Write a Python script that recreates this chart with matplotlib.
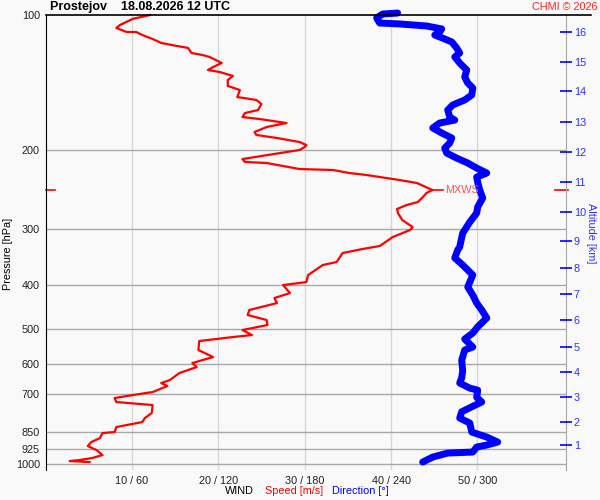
import matplotlib.pyplot as plt
import matplotlib.transforms as mtransforms
from matplotlib.ticker import NullLocator

plt.rcParams['font.family'] = ['Liberation Sans', 'DejaVu Sans']

# wind speed profile [m/s] vs pressure [hPa]
speed_p = [100, 102, 105.3, 106.9, 109.1, 109.1, 110.8, 113.1, 115.4, 117.2, 118.4, 121.5,
           122.8, 124.0, 127.9, 130.6, 132.6, 134.0, 136.7, 139.6, 143.9, 146.9, 152.3,
           154.6, 157.8, 162.8, 165.3, 168.7, 170.5, 174.0, 177.6, 182.2, 185.0, 187.9,
           191.8, 194.8, 196.8, 199.8, 209.3, 212.5, 213.6, 220.3, 221.4, 224.9, 227.2,
           233.1, 236.7, 245.3, 249.1, 254.3, 260.9, 265.0, 270.4, 276.1, 286.1, 296.6,
           301.2, 312.2, 326.9, 332.0, 338.9, 354.9, 360.4, 379.4, 393.2, 395.2, 399.3,
           416.1, 426.9, 438.0, 453.9, 465.7, 477.8, 490.2, 503.0, 516.0, 521.4, 532.2,
           557.3, 577.7, 595.8, 608.1, 627.1, 650.0, 660.1, 670.4, 691.3, 702.0, 712.9,
           727.6, 738.9, 769.8, 789.9, 806.3, 827.2, 848.7, 853.1, 875.2, 893.3, 911.9,
           930.8, 954.9, 969.7, 979.7, 984.8, 989.9]
speed = [12.1, 10.1, 8.6, 8.2, 9.4, 10.5, 11.2, 12.4, 13.4, 15.2, 16.5, 16.9,
         18.2, 19.0, 20.4, 19.4, 18.8, 20.2, 21.7, 21.1, 21.1, 22.5, 22.2,
         24.4, 25.0, 24.6, 23.1, 22.8, 24.8, 27.9, 25.6, 24.2, 24.4, 26.8,
         29.4, 30.2, 30.0, 29.4, 22.8, 23.1, 25.6, 29.4, 33.3, 35.2, 37.2,
         41.0, 43.0, 44.8, 44.1, 43.7, 43.1, 41.8, 40.7, 40.8, 41.3, 42.5,
         42.2, 40.2, 38.7, 36.7, 34.4, 33.7, 32.1, 30.4, 30.2, 29.4, 27.5,
         28.3, 26.5, 26.8, 23.6, 23.4, 25.6, 25.7, 22.8, 23.9, 21.7, 17.8,
         17.7, 19.4, 17.0, 17.5, 15.5, 14.4, 13.4, 14.1, 12.4, 10.1, 8.0,
         8.2, 12.4, 12.3, 11.5, 11.2, 8.2, 8.0, 6.6, 6.3, 5.3, 4.9,
         5.9, 6.6, 5.4, 3.9, 2.8, 5.1]

# wind direction profile [deg] vs pressure [hPa]
dir_p = [99.0, 99.5, 101.5, 104.2, 104.7, 105.8, 107.4, 109.1, 110.8, 111.9, 114.8, 118.4,
         121.5, 124.0, 127.9, 132.6, 137.4, 141.7, 145.4, 150.7, 154.6, 158.6, 162.8,
         168.7, 171.4, 174.0, 178.5, 183.1, 187.9, 192.8, 197.9, 203.0, 208.3, 213.6,
         219.2, 224.9, 229.6, 235.5, 245.3, 255.6, 267.7, 276.1, 289.2, 306.0, 328.6,
         333.7, 347.6, 360.4, 379.4, 403.4, 420.5, 438.0, 453.9, 472.9, 494.9, 510.7,
         526.9, 548.8, 557.3, 587.5, 619.3, 642.8, 660.1, 677.5, 684.6, 710.4, 727.6,
         745.6, 764.9, 789.9, 810.4, 849.0, 870.8, 893.3, 907.2, 916.6, 940.4, 945.2,
         964.8, 989.9]
direction = [244.6, 234.2, 230.0, 232.1, 246.0, 264.8, 275.2, 273.8, 270.4, 273.8, 282.2, 285.6,
             287.7, 284.3, 287.7, 292.6, 291.2, 293.3, 296.8, 296.1, 291.2, 282.9, 279.4,
             280.8, 284.3, 273.8, 269.0, 275.2, 282.2, 280.8, 277.3, 278.7, 285.6, 293.3,
             299.5, 306.5, 299.5, 300.2, 301.6, 303.7, 300.2, 299.5, 294.7, 289.8, 287.7,
             286.3, 284.3, 289.8, 296.8, 293.3, 296.8, 299.5, 303.0, 306.5, 300.2, 296.8,
             291.2, 296.8, 291.2, 289.1, 289.8, 289.1, 287.7, 294.7, 300.2, 299.5, 303.0,
             296.1, 289.1, 287.7, 294.7, 296.1, 306.5, 314.1, 306.5, 299.5, 296.8, 279.4,
             269.0, 262.0]

p_levels = [200, 300, 400, 500, 600, 700, 850, 925, 1000]
p_labels = ['100', '200', '300', '400', '500', '600', '700', '850', '925', '1000']
wind_ticks = [10, 20, 30, 40, 50]
wind_labels = ['10 / 60', '20 / 120', '30 / 180', '40 / 240', '50 / 300']
alt_km = [1, 2, 3, 4, 5, 6, 7, 8, 9, 10, 11, 12, 13, 14, 15, 16]
alt_p = [907, 806, 709, 624, 549, 478, 418, 366, 319, 275, 235, 202, 173, 148, 127, 109]
mxws_p = 245.3
mxws_speed = 44.8

bg = '#f9f9f9'
fig = plt.figure(figsize=(6, 5), dpi=100, facecolor=bg)
ax = fig.add_axes([45.5 / 600, 30 / 500, 520 / 600, 455 / 500], facecolor=bg)
ax.set_yscale('log')
ax.set_ylim(1031, 100)
ax.set_xlim(0, 60.2)

for p in p_levels:
    ax.axhline(p, color='#a8a8a8', lw=1, zorder=1)
for w in wind_ticks:
    ax.axvline(w, color='#d8d8d8', lw=1, zorder=0)

ax.plot([d / 6 for d in direction], dir_p, color='#0000ff', lw=5,
        solid_capstyle='round', solid_joinstyle='round', zorder=3, clip_on=False)
ax.plot(speed, speed_p, color='#ff0000', lw=1.6, zorder=4, clip_on=False)

# max wind marker
ax.plot([mxws_speed, mxws_speed + 1.2], [mxws_p, mxws_p], color='#ff0000', lw=1.2, zorder=4)
ax.text(mxws_speed + 1.5, mxws_p, 'MXWS', color='#ff5050', fontsize=7.8, va='center', ha='left')
trans = mtransforms.blended_transform_factory(ax.transAxes, ax.transData)
ax.plot([0, 0.019], [mxws_p, mxws_p], color='#ff0000', lw=1.2, transform=trans, clip_on=False)
ax.plot([0.98, 1.005], [mxws_p, mxws_p], color='#ff0000', lw=1.2, transform=trans, clip_on=False)

# frame
for s in ['top', 'bottom']:
    ax.spines[s].set_visible(False)
ax.spines['left'].set_color('black')
ax.spines['right'].set_color('#a8a8a8')
ax.plot([0, 1.049], [100, 100], color='black', lw=1.2, transform=trans, clip_on=False, zorder=5)

ax.yaxis.set_minor_locator(NullLocator())
ax.set_yticks([100] + p_levels)
ax.set_yticklabels(p_labels)
ax.set_xticks(wind_ticks)
ax.set_xticklabels(wind_labels)
ax.tick_params(axis='both', length=0, labelsize=7.8, colors='#222222')
ax.tick_params(axis='y', pad=4)
ax.tick_params(axis='x', pad=4)
ax.set_ylabel('Pressure [hPa]', fontsize=7.8, va='center')
ax.yaxis.set_label_coords(-37.5 / 520, 0.475)

ax2 = ax.twinx()
ax2.set_yscale('log')
ax2.set_ylim(1031, 100)
ax2.yaxis.set_minor_locator(NullLocator())
ax2.set_yticks(alt_p)
ax2.set_yticklabels([str(a) for a in alt_km])
ax2.tick_params(axis='y', direction='inout', length=8, width=1.2, color='#0000ff',
                labelcolor='#3030ff', labelsize=7.8, pad=2)
for s in ax2.spines.values():
    s.set_visible(False)
ax2.set_ylabel('Altitude [km]', color='#3030ff', fontsize=7.8, rotation=270, va='center')
ax2.yaxis.set_label_coords(545 / 520, 0.52)

# header and footer
fig.text(50 / 600, 1 - 7 / 500, 'Prostejov    18.08.2026 12 UTC', fontsize=9,
         fontweight='bold', va='center', ha='left')
fig.text(597 / 600, 1 - 7 / 500, 'CHMI \u00a9 2026', fontsize=7.8, color='#ff2020',
         va='center', ha='right')
fig.text(225 / 600, 1 - 491 / 500, 'WIND', fontsize=7.8, va='center', ha='left')
fig.text(265 / 600, 1 - 491 / 500, 'Speed [m/s]', fontsize=7.8, color='#ff0000',
         va='center', ha='left')
fig.text(332 / 600, 1 - 491 / 500, 'Direction [\u00b0]', fontsize=7.8, color='#0000ff',
         va='center', ha='left')

fig.savefig('out.png', dpi=100, facecolor=bg)
